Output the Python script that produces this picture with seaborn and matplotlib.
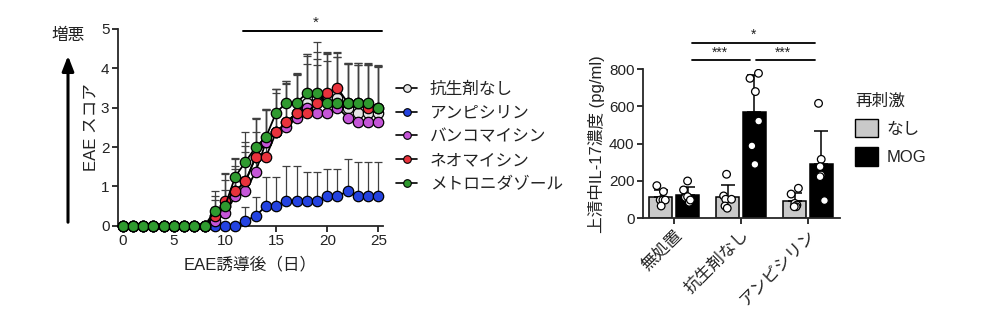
import numpy as np
import pandas as pd
import matplotlib
matplotlib.use("Agg")
import matplotlib.pyplot as plt
from matplotlib.lines import Line2D
from matplotlib.patches import Patch
import seaborn as sns

# ---------------- EAE clinical score (mean + SD) ----------------
days = [0, 1, 2, 3, 4, 5, 6, 7, 8, 9, 10, 11, 12, 13, 14, 15, 16, 17, 18, 19, 20, 21, 22, 23, 24, 25]
groups = ["抗生剤なし", "アンピシリン", "バンコマイシン", "ネオマイシン", "メトロニダゾール"]
group_colors = ["#e4e4e4", "#2443e0", "#c556d8", "#e8323c", "#2f9a2f"]

score_none = [0, 0, 0, 0, 0, 0, 0, 0, 0, 0.25, 0.5, 0.875, 1.125, 1.75, 2.125, 2.375, 2.625,
              2.875, 3.125, 3.25, 3.25, 3.25, 3.0, 2.875, 2.875, 2.875]
score_amp = [0, 0, 0, 0, 0, 0, 0, 0, 0, 0, 0, 0, 0.125, 0.25, 0.5, 0.5, 0.625,
             0.625, 0.625, 0.625, 0.75, 0.75, 0.875, 0.75, 0.75, 0.75]
score_van = [0, 0, 0, 0, 0, 0, 0, 0, 0, 0.125, 0.3125, 0.75, 0.875, 1.375, 2.125, 2.375, 2.5,
             2.75, 3.0, 2.875, 2.875, 3.0, 2.75, 2.625, 2.625, 2.625]
score_neo = [0, 0, 0, 0, 0, 0, 0, 0, 0, 0.25, 0.625, 0.875, 1.125, 1.75, 1.75, 2.375, 2.625,
             2.875, 2.875, 3.125, 3.375, 3.5, 3.125, 3.125, 3.0, 3.0]
score_met = [0, 0, 0, 0, 0, 0, 0, 0, 0, 0.375, 0.5, 1.25, 1.625, 2.0, 2.25, 2.875, 3.125,
             3.125, 3.375, 3.375, 3.125, 3.125, 3.125, 3.125, 3.125, 3.0]

sd_none = [0, 0, 0, 0, 0, 0, 0, 0, 0, 0.5, 0.65, 0.65, 0.9, 0.95, 0.85, 1.0, 1.0,
           0.95, 1.2, 1.0, 1.15, 1.05, 1.1, 1.2, 1.2, 1.2]
sd_amp = [0, 0, 0, 0, 0, 0, 0, 0, 0, 0, 0, 0, 0.35, 0.47, 0.75, 0.75, 0.9,
          0.9, 0.73, 0.73, 0.7, 0.7, 0.82, 0.88, 0.88, 0.88]
sd_van = [0, 0, 0, 0, 0, 0, 0, 0, 0, 0.35, 0.6, 0.7, 1.0, 1.0, 0.85, 1.1, 1.1,
          1.1, 1.1, 1.2, 1.3, 1.3, 1.35, 1.45, 1.45, 1.4]
sd_neo = [0, 0, 0, 0, 0, 0, 0, 0, 0, 0.4, 0.7, 0.85, 1.0, 1.0, 1.2, 1.1, 1.05,
          1.0, 1.5, 1.3, 1.0, 0.9, 1.0, 1.0, 1.1, 1.05]
sd_met = [0, 0, 0, 0, 0, 0, 0, 0, 0, 0.5, 0.85, 0.45, 0.75, 0.75, 0.7, 0.6, 0.55,
          0.72, 1.0, 1.3, 1.3, 1.3, 1.0, 1.0, 1.0, 1.05]

scores = [score_none, score_amp, score_van, score_neo, score_met]
sds = [sd_none, sd_amp, sd_van, sd_neo, sd_met]

# ---------------- IL-17 in supernatant ----------------
treatments = ["無処置", "抗生剤なし", "アンピシリン"]
restim = ["なし", "MOG"]
il17_untreated_none = [175, 143, 98, 98, 98, 66]
il17_untreated_mog = [200, 152, 112, 116, 86, 98]
il17_noabx_none = [236, 120, 102, 102, 66, 54]
il17_noabx_mog = [777, 750, 679, 521, 388, 289]
il17_amp_none = [161, 130, 80, 71, 62, 62]
il17_amp_mog = [616, 316, 277, 232, 223, 95]
bar_colors = ["#c9c9c9", "#000000"]

# ---------------- style ----------------
sns.set_style("ticks")
plt.rcParams["font.family"] = ["Liberation Sans", "Noto Sans CJK JP"]
plt.rcParams["axes.linewidth"] = 1.3
plt.rcParams["xtick.major.width"] = 1.3
plt.rcParams["ytick.major.width"] = 1.3
plt.rcParams["xtick.major.size"] = 4
plt.rcParams["ytick.major.size"] = 4
plt.rcParams["xtick.color"] = "#222222"
plt.rcParams["ytick.color"] = "#222222"
plt.rcParams["text.color"] = "#222222"
plt.rcParams["axes.labelcolor"] = "#222222"

fig = plt.figure(figsize=(9.81, 3.24), dpi=100)
ax1 = fig.add_axes([0.1200, 0.3034, 0.2704, 0.6071])
ax2 = fig.add_axes([0.6552, 0.3262, 0.2011, 0.4608])

# ---------------- left panel: time course ----------------
rows = []
for g, sc, sd in zip(groups, scores, sds):
    for d, s, e in zip(days, sc, sd):
        rows.append({"group": g, "day": d, "score": s, "sd": e})
eae = pd.DataFrame(rows)

for g in groups:
    sub = eae[eae["group"] == g]
    ax1.errorbar(sub["day"], sub["score"], yerr=[np.zeros(len(sub)), sub["sd"]],
                 fmt="none", ecolor="#404040", elinewidth=0.9, capsize=3.2,
                 capthick=0.9, zorder=1, clip_on=False)

for i, (g, c) in enumerate(zip(groups, group_colors)):
    sub = eae[eae["group"] == g]
    sns.lineplot(data=sub, x="day", y="score", ax=ax1, color="black", lw=1.3,
                 marker="o", markersize=7.5, markerfacecolor=c,
                 markeredgecolor="black", markeredgewidth=0.9,
                 errorbar=None, clip_on=False, zorder=3 + i)

ax1.set_xlim(-0.5, 25.45)
ax1.set_ylim(0, 5)
ax1.set_xticks([0, 5, 10, 15, 20, 25])
ax1.set_yticks([0, 1, 2, 3, 4, 5])
ax1.tick_params(labelsize=11, pad=2)
ax1.set_xlabel("EAE誘導後（日）", fontsize=12, labelpad=6)
ax1.set_ylabel("EAE スコア", fontsize=12, labelpad=2)
sns.despine(ax=ax1)

# significance bar over the later time course
ax1.plot([11.8, 25.35], [4.95, 4.95], color="black", lw=1.4, clip_on=False)
ax1.text(18.9, 4.97, "*", ha="center", va="bottom", fontsize=11)

# worsening arrow on the far left
ax1.annotate("", xy=(68, 324 - 53), xytext=(68, 324 - 225),
             xycoords="figure pixels", textcoords="figure pixels",
             arrowprops=dict(arrowstyle="-|>,head_length=0.9,head_width=0.35",
                             color="black", lw=2.2))
fig.text(68 / 981, 1 - 35 / 324, "増悪", ha="center", va="center", fontsize=12)

handles = [Line2D([0], [0], color="black", lw=1.2, marker="o", markersize=5.5,
                  markerfacecolor=c, markeredgecolor="black", markeredgewidth=0.8)
           for c in group_colors]
ax1.legend(handles, groups, loc="upper left", bbox_to_anchor=(0.404, 0.748),
           bbox_transform=fig.transFigure, frameon=False, borderpad=0,
           borderaxespad=0, handlelength=1.25, handletextpad=0.75,
           labelspacing=0.52, fontsize=12)

# ---------------- right panel: IL-17 bars ----------------
vals = {
    ("無処置", "なし"): il17_untreated_none,
    ("無処置", "MOG"): il17_untreated_mog,
    ("抗生剤なし", "なし"): il17_noabx_none,
    ("抗生剤なし", "MOG"): il17_noabx_mog,
    ("アンピシリン", "なし"): il17_amp_none,
    ("アンピシリン", "MOG"): il17_amp_mog,
}
rows = []
for (t, s), v in vals.items():
    for x in v:
        rows.append({"treat": t, "stim": s, "il17": x})
il17 = pd.DataFrame(rows)
il17["treat"] = pd.Categorical(il17["treat"], treatments)
il17["stim"] = pd.Categorical(il17["stim"], restim)

sns.barplot(data=il17, x="treat", y="il17", hue="stim", order=treatments,
            hue_order=restim, palette=bar_colors, errorbar=None, width=0.8,
            gap=0.14, edgecolor="black", linewidth=1.1, ax=ax2, legend=False,
            zorder=2)

stats = il17.groupby(["treat", "stim"], observed=True)["il17"].agg(["mean", "std"])
for p in ax2.patches:
    cx = p.get_x() + p.get_width() / 2
    ti = int(round(cx))
    si = 0 if cx < ti else 1
    m, s = stats.loc[(treatments[ti], restim[si])]
    ax2.errorbar([cx], [m], yerr=[[0], [s]], fmt="none", ecolor="black",
                 elinewidth=1.1, capsize=5, capthick=1.1, zorder=2.5)

np.random.seed(7)
sns.stripplot(data=il17, x="treat", y="il17", hue="stim", order=treatments,
              hue_order=restim, dodge=True, jitter=0.14,
              palette=["white", "white"], edgecolor="black", linewidth=0.9,
              size=5.5, legend=False, ax=ax2, zorder=4)

ax2.set_xlim(-0.47, 2.48)
ax2.set_ylim(0, 800)
ax2.set_yticks([0, 200, 400, 600, 800])
ax2.tick_params(labelsize=11, pad=2)
ax2.set_xlabel("")
ax2.set_ylabel("上清中IL-17濃度 (pg/ml)", fontsize=12, labelpad=3)
ax2.set_xticks(range(len(treatments)))
ax2.set_xticklabels(treatments, rotation=45, ha="right", rotation_mode="anchor",
                    fontsize=12)
sns.despine(ax=ax2)

# comparison brackets
ax2.plot([0.26, 1.13], [848, 848], color="black", lw=1.3, clip_on=False)
ax2.plot([1.23, 2.10], [848, 848], color="black", lw=1.3, clip_on=False)
ax2.plot([0.26, 2.10], [941, 941], color="black", lw=1.3, clip_on=False)
ax2.text(0.69, 852, "***", ha="center", va="bottom", fontsize=10)
ax2.text(1.62, 852, "***", ha="center", va="bottom", fontsize=10)
ax2.text(1.18, 945, "*", ha="center", va="bottom", fontsize=10)

stim_handles = [Patch(facecolor=c, edgecolor="black", linewidth=1.0) for c in bar_colors]
ax2.legend(stim_handles, restim, title="再刺激", loc="upper left",
           bbox_to_anchor=(0.8716, 0.712), bbox_transform=fig.transFigure,
           frameon=False, borderpad=0, borderaxespad=0, handlelength=1.35,
           handleheight=1.35, handletextpad=0.55, labelspacing=0.6,
           fontsize=12, title_fontsize=12, alignment="left")

fig.savefig("out.png", dpi=100)
